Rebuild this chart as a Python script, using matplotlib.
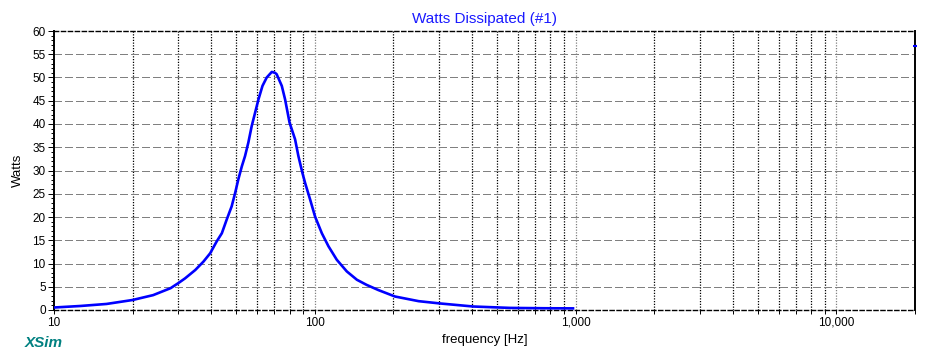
import matplotlib
matplotlib.use('Agg')
import matplotlib.pyplot as plt
from matplotlib.ticker import FixedLocator, MultipleLocator, NullFormatter

plt.rcParams['font.family'] = ['Liberation Sans', 'DejaVu Sans']

# power curve (Hz, W)
freq = [10.1, 12.6, 15.9, 20, 24, 28, 30, 31.8, 34.8, 37.4, 39.7, 42.0, 44.0,
        45.9, 48.0, 49.5, 50.9, 52.5, 54.0, 55.6, 57.3, 59.0, 60.8, 63.0,
        65.4, 68.4, 70.4, 71.4, 74.7, 76.9, 80, 84.0, 86.5, 89.6, 91.8, 96.0,
        100.2, 106.4, 112.8, 121.4, 132.6, 145, 158, 175, 203, 250, 303, 405,
        561, 750, 977]
watts = [0.55, 0.86, 1.3, 2.15, 3.2, 4.7, 5.8, 6.8, 8.6, 10.4, 12.2, 14.7,
         16.5, 19.4, 22.3, 25.2, 28.1, 30.9, 33.1, 36.0, 39.6, 42.4, 45.3,
         48.2, 50.0, 51.2, 51.0, 50.7, 48.2, 45.3, 40.3, 36.7, 33.1, 29.5,
         27.3, 23.7, 20.1, 16.5, 13.7, 10.8, 8.3, 6.5, 5.4, 4.3, 2.9, 1.9,
         1.4, 0.75, 0.45, 0.38, 0.35]

x_major = [10, 100, 1000, 10000]
x_labels = ['10', '100', '1,000', '10,000']
x_minor = [m * d for d in (10, 100, 1000) for m in range(2, 10)] + [20000]

fig = plt.figure(figsize=(9.5, 3.56), dpi=100)
ax = fig.add_axes([54 / 950, 46 / 356, 861 / 950, 279 / 356])

ax.plot(freq, watts, color='#0000ff', lw=1.9, zorder=3)
# small cursor mark on the right edge
ax.plot([20000], [56.8], marker='_', ms=3, mew=1.5, color='#0000ff',
        clip_on=False, zorder=4)

ax.set_xscale('log')
ax.set_xlim(10, 20000)
ax.set_ylim(0, 60)

# vertical grid: black dotted inside decades, grey dotted on decades
for f in x_minor[:-1]:
    ax.axvline(f, color='black', lw=0.9, ls=(0, (1, 1.2)), zorder=1)
for f in x_major[1:]:
    ax.axvline(f, color='#808080', lw=0.9, ls=(0, (1, 1.2)), zorder=1)
for w in range(5, 60, 5):
    ax.axhline(w, color='#808080', lw=0.72, ls=(0, (8, 4)), zorder=1,
               antialiased=False)

ax.xaxis.set_major_locator(FixedLocator(x_major))
ax.set_xticklabels(x_labels)
ax.xaxis.set_minor_locator(FixedLocator(x_minor))
ax.xaxis.set_minor_formatter(NullFormatter())
ax.yaxis.set_major_locator(MultipleLocator(5))
ax.yaxis.set_minor_locator(MultipleLocator(1))
ax.tick_params(axis='both', which='major', labelsize=8.5, length=4,
               width=0.7, pad=2)
ax.tick_params(axis='both', which='minor', length=2, width=0.7)
ax.tick_params(axis='x', which='both', length=3)

for side in ('top', 'bottom'):
    ax.spines[side].set_linestyle((0, (3, 2)))
    ax.spines[side].set_linewidth(1.0)
for side in ('left', 'right'):
    ax.spines[side].set_linewidth(1.4)

ax.set_xlabel('frequency [Hz]', fontsize=9.5, labelpad=4)
ax.set_ylabel('Watts', fontsize=9.5, labelpad=6)
ax.set_title('Watts Dissipated (#1)', color='#1a1aff', fontsize=11, pad=6)

fig.text(25 / 950, 1 - 343 / 356, 'XSim', color='#008080', fontsize=11,
         fontweight='bold', fontstyle='italic', va='center', ha='left')

fig.savefig('out.png', dpi=100, facecolor='white')
